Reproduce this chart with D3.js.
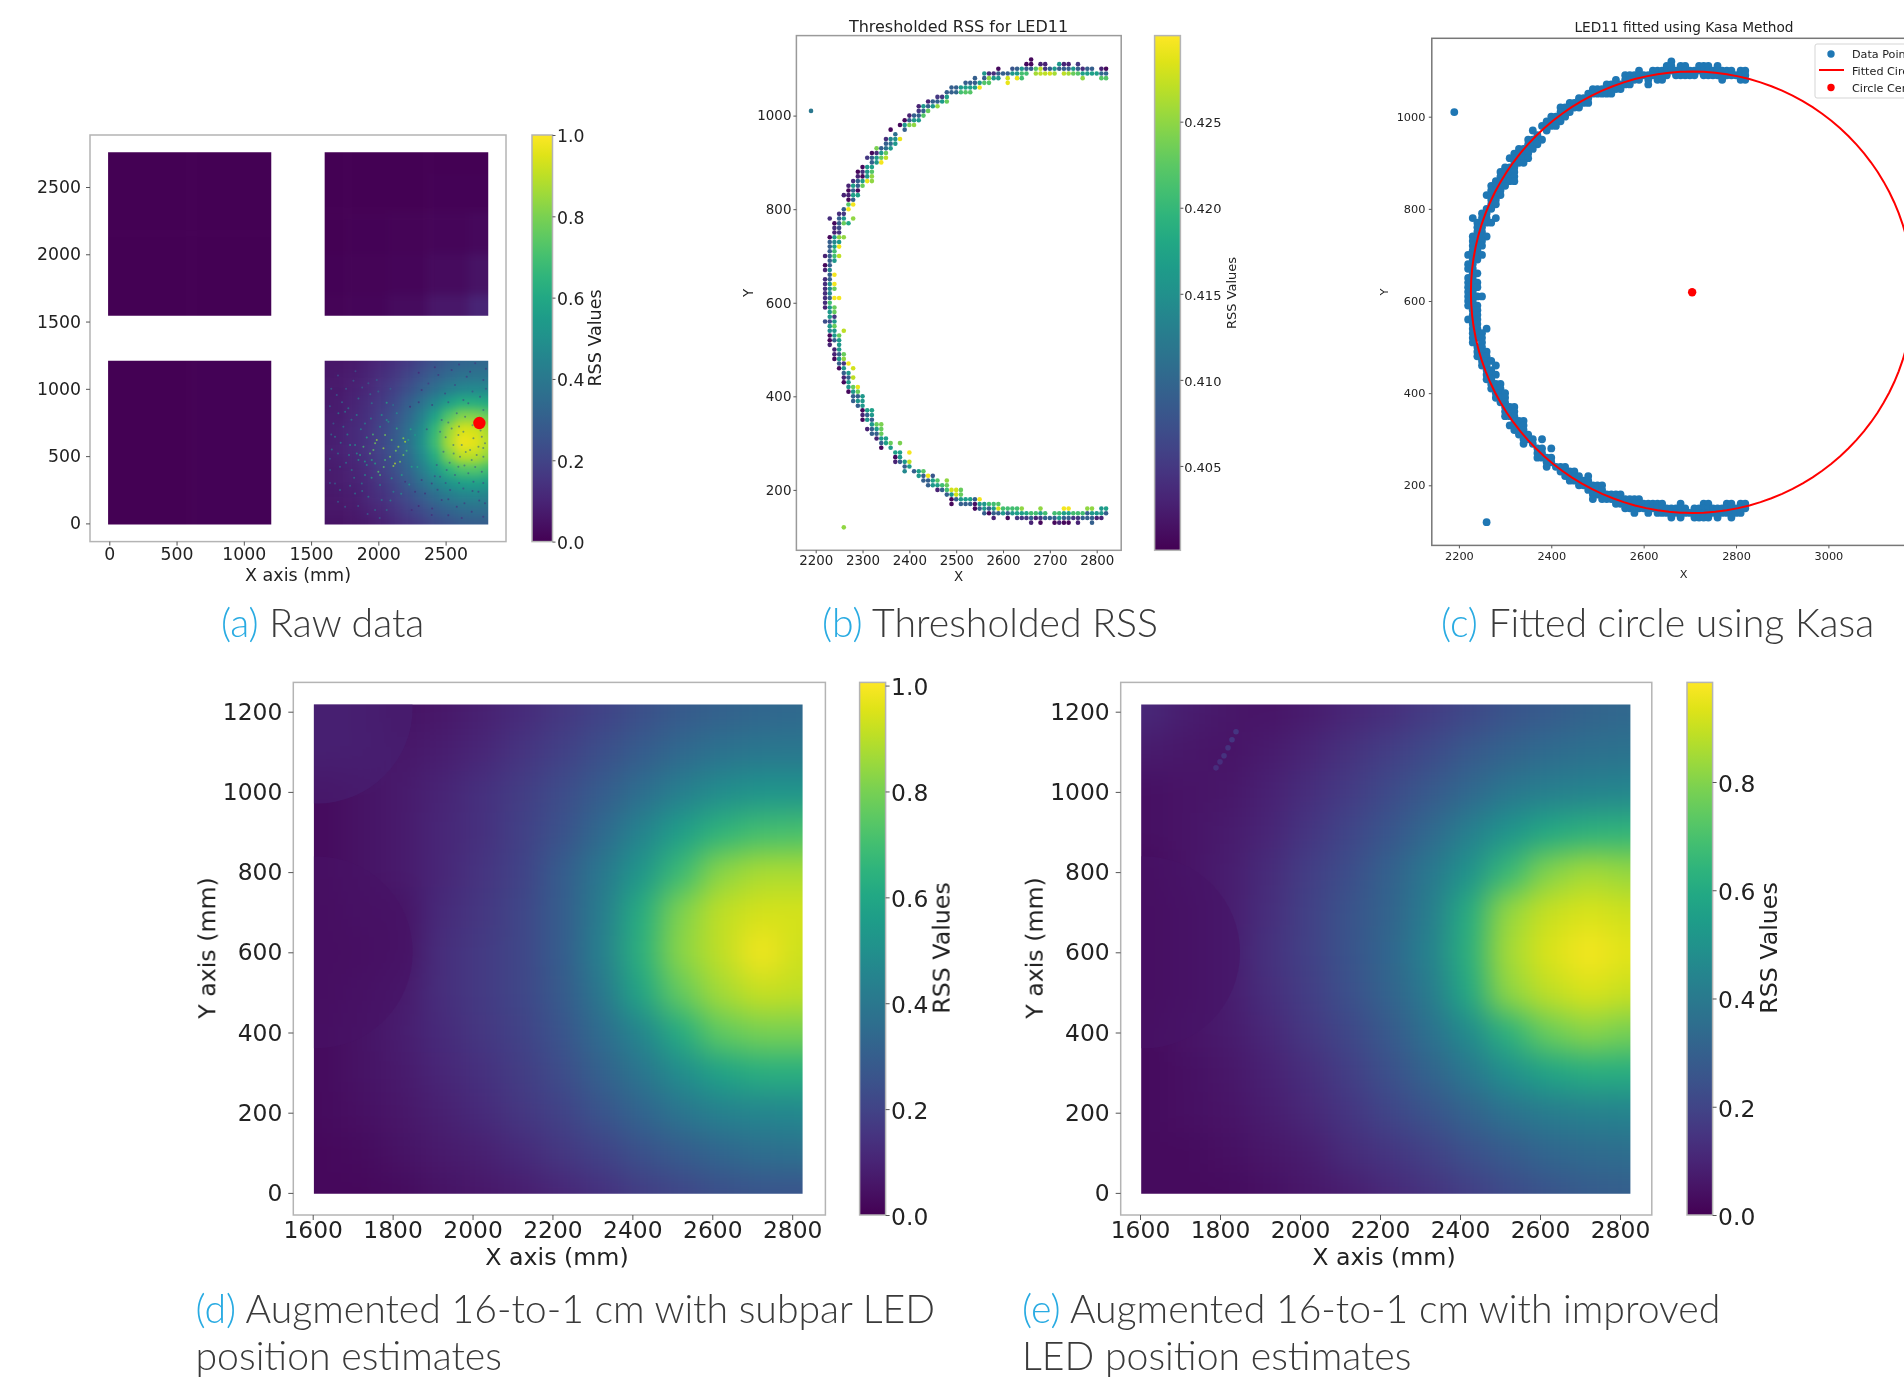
<!DOCTYPE html>
<html>
<head>
<meta charset="utf-8">
<script src="https://cdn.jsdelivr.net/npm/d3@7"></script>
<style>
  html, body { margin: 0; background: #fff; overflow: hidden; }
  text { font-family: "DejaVu Sans", sans-serif; fill: #222; }
  .caption text, text.caption { font-family: Lato, sans-serif; font-weight: 300; fill: #3a3a3a; }
  .soft { filter: blur(0.45px); }
</style>
</head>
<body>
<svg id="chart" width="1904" height="1381"></svg>
<script>
// coarse heat grids, RSS, rows run from the top (y=1200) down
const gridX = [1620,1720,1820,1920,2020,2120,2220,2320,2420,2520,2620,2720,2820];
const gridY = [1200,1100,1000,900,800,700,600,500,400,300,200,100,0];

const rawGrid = [
  [.06,.06,.07,.09,.11,.14,.17,.21,.25,.29,.32,.33,.33],
  [.06,.07,.08,.10,.13,.16,.20,.25,.30,.34,.37,.38,.38],
  [.07,.07,.09,.11,.15,.19,.24,.30,.36,.42,.46,.47,.46],
  [.07,.08,.10,.13,.17,.22,.29,.37,.46,.56,.62,.62,.60],
  [.08,.08,.11,.14,.19,.25,.33,.43,.57,.72,.81,.81,.76],
  [.08,.09,.12,.15,.20,.27,.36,.48,.66,.84,.94,.93,.86],
  [.08,.09,.12,.15,.21,.28,.37,.50,.68,.87,.98,.96,.88],
  [.08,.09,.11,.15,.20,.26,.35,.47,.62,.80,.90,.90,.83],
  [.07,.08,.10,.13,.18,.24,.32,.42,.53,.65,.72,.73,.69],
  [.07,.08,.09,.12,.16,.21,.28,.36,.44,.51,.56,.57,.55],
  [.06,.07,.08,.11,.14,.18,.23,.29,.35,.41,.44,.45,.44],
  [.06,.06,.07,.09,.11,.15,.19,.23,.28,.32,.35,.36,.36],
  [.05,.05,.06,.07,.09,.12,.15,.18,.22,.25,.28,.29,.29]
];

const subparGrid = [
  [.09,.08,.05,.06,.09,.12,.16,.20,.24,.28,.31,.33,.34],
  [.09,.08,.06,.08,.11,.15,.19,.24,.29,.34,.38,.40,.40],
  [.03,.05,.07,.10,.14,.18,.23,.29,.36,.43,.49,.52,.52],
  [.03,.05,.07,.11,.14,.19,.25,.34,.45,.56,.65,.70,.71],
  [.03,.05,.07,.11,.15,.20,.29,.40,.53,.68,.83,.88,.88],
  [.02,.04,.05,.12,.16,.21,.29,.42,.62,.81,.91,.94,.94],
  [.02,.03,.05,.13,.17,.21,.29,.43,.64,.83,.91,.99,.93],
  [.02,.04,.07,.13,.17,.21,.28,.40,.59,.77,.87,.92,.91],
  [.03,.05,.08,.12,.16,.20,.26,.35,.46,.62,.76,.80,.80],
  [.03,.05,.07,.11,.14,.18,.23,.31,.39,.49,.58,.63,.63],
  [.03,.04,.06,.09,.12,.16,.20,.26,.32,.39,.44,.46,.47],
  [.02,.03,.05,.07,.09,.12,.16,.20,.25,.29,.33,.36,.37],
  [.02,.02,.03,.05,.06,.08,.11,.14,.18,.21,.24,.26,.26]
];

const improvedGrid = [
  [.11,.08,.06,.05,.07,.10,.13,.17,.21,.25,.28,.31,.33],
  [.07,.06,.05,.07,.10,.14,.18,.22,.27,.31,.34,.36,.37],
  [.04,.05,.06,.09,.13,.17,.22,.27,.33,.39,.42,.44,.45],
  [.04,.05,.07,.10,.15,.20,.26,.33,.42,.51,.59,.63,.64],
  [.03,.05,.08,.12,.18,.23,.30,.39,.50,.66,.80,.85,.83],
  [.02,.04,.08,.13,.19,.25,.31,.41,.60,.83,.90,.93,.91],
  [.02,.04,.08,.14,.19,.25,.32,.43,.62,.85,.93,.97,.94],
  [.02,.04,.08,.13,.18,.24,.31,.40,.59,.82,.89,.93,.90],
  [.03,.05,.07,.11,.16,.21,.27,.36,.47,.63,.76,.81,.78],
  [.03,.04,.06,.09,.13,.18,.24,.31,.39,.49,.57,.61,.61],
  [.03,.04,.05,.08,.11,.15,.20,.25,.31,.37,.41,.43,.44],
  [.03,.03,.04,.06,.08,.12,.15,.19,.24,.28,.32,.34,.35],
  [.03,.03,.03,.04,.06,.08,.11,.14,.18,.22,.25,.28,.29]
];

// the other three quadrants of the raw data
const upperRightX = [1620,1920,2220,2520,2820];
const upperRightY = [2760,2450,2160,1850,1550];
const upperRightGrid = [
  [.001,.001,.001,.002,.002],
  [.001,.002,.003,.004,.006],
  [.002,.005,.010,.015,.020],
  [.005,.010,.015,.030,.050],
  [.010,.015,.030,.060,.100]
];
const upperLeftX = [10,1210];
const upperLeftY = [2760,1550];
const upperLeftGrid = [[.001,.001],[.001,.001]];
const lowerLeftX = [10,1210];
const lowerLeftY = [1210,0];
const lowerLeftGrid = [[.002,.004],[.002,.005]];

// specks in the raw data
const brightX = [2062,2025,2075,2137,2186,2199,2050,1988,1976,1914,2149,2087,2124,2112,2186,2000,2013,1938,1951,1889,1790,1782,1703,1753,1740,1678,1654,1715,1852,1951,1815,1926,1988,1715,1827,2013,1901,1877,1753,1976,2025,2112,1802,1852,2174,2248,2223,2273,2137,2062,2013,1901,1839,1777,1666,1691,1641,1678,1926,2062,2099,2050,1976,1914,1827,1864,1963,2038,2099,2161,1650,1700,1760,1830,1880,1940,2000,2090,1640,1730,1800,1870,1945,2110,1650,1720,1770,1840,1900,1960,1640,1700,1760,1820,1880,1950,2040,2130,2210,2240,1640,1700,1790,1850,1920,2010,2090,2170,2230,2290];
const brightY = [897,805,756,706,632,607,657,620,595,639,570,496,446,426,508,384,359,520,471,570,582,508,818,830,719,644,550,421,929,892,1060,1041,1065,248,223,285,359,297,124,99,174,236,397,471,359,421,620,657,818,768,718,743,805,855,743,954,397,297,198,99,335,471,446,434,582,508,545,558,620,459,1000,1100,1000,1130,1010,960,980,1000,870,900,770,700,780,880,660,600,660,520,460,660,480,520,450,340,240,340,420,540,540,700,300,160,280,130,70,40,170,220,290,420];
const brightV = [.6,.55,.5,.65,.85,.9,.8,.85,.8,.6,.85,.8,.9,.85,.8,.75,.7,.75,.6,.7,.55,.45,.4,.4,.4,.4,.4,.35,.4,.4,.3,.3,.3,.35,.4,.45,.5,.4,.3,.35,.4,.45,.4,.5,.6,.6,.6,.55,.5,.55,.5,.45,.45,.4,.3,.3,.3,.3,.4,.35,.55,.7,.6,.5,.5,.6,.75,.85,.75,.8,.3,.25,.3,.25,.3,.35,.35,.3,.3,.35,.4,.45,.45,.4,.35,.4,.45,.5,.55,.7,.3,.35,.4,.4,.4,.6,.75,.8,.7,.6,.3,.3,.35,.3,.3,.3,.45,.5,.55,.6];
const darkX = [2682,2545,2372,2496,2632,2756,2669,2583,2471,2645,2781,2459,2595,2707,2769,2682,2744,2558,2484,2607,2694,2781,2434,2570,2459,2669,2769,2397,2533,2632,2744,2347,2471,2583,2694,2793,2248,2397,2273,2236,2322,2570,2781,2657,2446,2620,2632,2545,2731,2793,2595,2508,2707,2322,2199,2300,2420,2600,2720,2800,2300,2400,2520,2700,2800,2360,2520,2600,2700,2760,2500,2560,2650,2780,2530,2640,2720,2420,2500,2600,2700,2780,2440,2520,2640,2750,2300,2400,2520,2620,2780];
const darkY = [1127,1140,1040,966,917,942,892,818,768,793,842,681,657,632,644,545,570,582,533,496,471,496,434,359,347,372,384,297,248,260,236,223,174,124,87,149,99,62,236,867,991,1028,1065,1090,1102,582,681,706,508,595,421,396,310,322,310,1120,1160,1180,1190,1150,900,880,900,980,1000,700,750,720,730,690,640,520,530,560,450,430,420,350,300,300,240,300,250,180,150,170,130,110,60,40,50];
const darkV = [.12,.12,.14,.16,.2,.2,.2,.25,.22,.28,.25,.3,.35,.35,.3,.35,.32,.3,.25,.3,.32,.3,.22,.2,.2,.25,.2,.12,.15,.18,.16,.1,.12,.12,.12,.14,.1,.1,.1,.08,.1,.16,.14,.14,.12,.35,.35,.3,.3,.3,.28,.22,.2,.12,.1,.08,.1,.14,.14,.14,.1,.12,.2,.2,.2,.18,.3,.32,.35,.32,.3,.32,.35,.3,.28,.3,.3,.18,.2,.22,.16,.2,.14,.12,.14,.14,.08,.1,.1,.12,.12];
const ledPos = [2751,746];

// discs visible in the augmented maps: centre x, centre y, radius, RSS
const subparDiscs = [[1610,1210,240,.09],[1610,600,240,.05]];
const improvedDiscs = [[1610,600,240,.05]];
// short bright streak in the improved map
const streakX = [1790,1800,1810,1820,1830,1840];
const streakY = [1060,1075,1090,1110,1130,1150];
const streakV = [.13,.13,.14,.14,.15,.15];

// thresholded points, one row per y
const threshY = [1120,1110,1100,1090,1080,1070,1060,1050,1040,1030,1020,1010,1000,990,980,970,960,950,940,930,920,910,900,890,880,870,860,850,840,830,820,810,800,790,780,770,760,750,740,730,720,710,700,690,680,670,660,650,640,630,620,610,600,590,580,570,560,550,540,530,520,510,500,490,480,470,460,450,440,430,420,410,400,390,380,370,360,350,340,330,320,310,300,290,280,270,260,250,240,230,220,210,200,190,180,170,160,150,140,130,120];
const threshX = [
  [2660],
  [2650,2660,2680,2690,2720,2730,2740,2760],
  [2590,2620,2630,2640,2650,2660,2670,2680,2690,2700,2710,2720,2730,2740,2750,2760,2770,2780,2790,2810,2820],
  [2560,2570,2580,2590,2600,2610,2620,2630,2640,2650,2670,2680,2690,2700,2710,2730,2740,2750,2760,2770,2780,2790,2800,2810,2820],
  [2540,2560,2570,2580,2590,2610,2630,2640,2770,2810,2820],
  [2520,2530,2540,2550,2560,2570,2610],
  [2490,2500,2510,2520,2530,2540,2550],
  [2480,2490,2500,2510,2520,2530],
  [2460,2470,2480],
  [2440,2450,2460,2470,2480],
  [2420,2430,2440,2450,2460],
  [2190,2420,2430,2440],
  [2400,2410,2420,2430],
  [2390,2400,2410,2420],
  [2380,2390,2400,2410],
  [2360,2390],
  [2370],
  [2350,2360,2370,2380],
  [2350,2360,2370],
  [2330,2340,2350,2360],
  [2320,2330,2340,2350],
  [2310,2320,2330,2340,2350],
  [2320,2330,2340],
  [2300,2310,2320],
  [2290,2300,2310,2320],
  [2290,2300,2310,2320],
  [2280,2290,2300,2310,2320],
  [2270,2280,2290,2300],
  [2270,2280,2290],
  [2260,2270,2280,2290],
  [2270,2280],
  [2270,2280],
  [2260,2270],
  [2250,2260],
  [2230,2250,2260,2280],
  [2240,2250,2260,2270],
  [2240,2250],
  [2240,2250],
  [2230,2240,2250,2260],
  [2230,2240,2250],
  [2230,2240,2250],
  [2230,2240],
  [2220,2230,2240,2250],
  [2230,2240],
  [2220,2230],
  [2220,2230],
  [2230,2240],
  [2220,2230],
  [2220,2230,2240],
  [2220,2230,2240],
  [2220,2230],
  [2220,2230,2240,2250],
  [2220,2230],
  [2220,2230,2240],
  [2230,2240],
  [2230,2240],
  [2220,2230,2240],
  [2230,2240],
  [2230,2240,2260],
  [2230,2240,2250],
  [2230,2240,2250],
  [2230,2250],
  [2240,2250],
  [2240,2250,2260],
  [2240,2250,2260],
  [2250,2260,2270],
  [2250,2260,2280],
  [2260,2270],
  [2260,2270,2280],
  [2260,2270],
  [2270,2280,2290],
  [2270,2280,2290],
  [2280,2290,2300],
  [2280,2290,2300],
  [2290,2300],
  [2300,2310,2320],
  [2300,2310,2320],
  [2300,2310,2320],
  [2320,2330,2340],
  [2310,2320,2330,2340],
  [2320,2330,2340],
  [2330,2340,2350],
  [2340,2350,2360,2380],
  [2340,2360],
  [2370,2380,2400],
  [2370,2380],
  [2370,2380,2390,2400],
  [2390,2400],
  [2390,2410,2420,2430],
  [2420,2430,2440,2450],
  [2430,2440,2450,2460,2480],
  [2440,2450,2460,2470,2480],
  [2460,2470,2480,2490,2500,2510],
  [2480,2490,2500,2510],
  [2490,2500,2510,2520,2530,2540,2550],
  [2490,2510,2520,2530,2540,2550,2560,2570,2580,2590],
  [2540,2550,2560,2570,2580,2590,2600,2610,2620,2630,2640,2680,2730,2740,2780,2790,2810,2820],
  [2560,2570,2580,2590,2600,2610,2620,2630,2640,2650,2660,2670,2680,2690,2710,2720,2730,2740,2750,2760,2770,2780,2790,2800,2810,2820],
  [2580,2610,2630,2640,2650,2660,2670,2680,2690,2700,2710,2720,2730,2740,2750,2760,2770,2780,2790,2800,2810],
  [2660,2680,2710,2720,2730,2740,2760,2790],
  [2260]
];
const threshV = [
  [.4008],
  [.4008,.4008,.403,.403,.416,.403,.403,.405],
  [.4008,.408,.409,.416,.409,.409,.422,.427,.405,.409,.416,.409,.409,.409,.416,.409,.404,.409,.409,.403,.4008],
  [.416,.404,.404,.409,.409,.409,.416,.416,.421,.421,.426,.427,.427,.428,.426,.427,.426,.423,.422,.417,.417,.417,.417,.41,.41],
  [.409,.409,.425,.416,.416,.428,.429,.421,.425,.422,.422],
  [.409,.409,.409,.416,.422,.422,.429],
  [.409,.409,.416,.417,.417,.417,.4295],
  [.409,.409,.41,.421,.422,.422],
  [.405,.405,.417],
  [.403,.409,.409,.416,.423],
  [.403,.416,.409,.416,.425],
  [.412,.405,.409,.423],
  [.403,.409,.409,.422],
  [.4008,.409,.416,.416],
  [.4008,.416,.424,.425],
  [.4008,.409],
  [.411],
  [.404,.414,.415,.429],
  [.409,.411,.416],
  [.424,.409,.411,.416],
  [.4008,.404,.416,.423],
  [.405,.409,.416,.423,.427],
  [.409,.416,.4295],
  [.4008,.416,.417],
  [.4008,.404,.416,.422],
  [.403,.4008,.416,.425],
  [.404,.409,.416,.429,.425],
  [.403,.417,.409,.423],
  [.4008,.409,.4008],
  [.403,.403,.417,.417],
  [.4008,.409],
  [.422,.4295],
  [.409,.4295],
  [.404,.405],
  [.404,.409,.416,.425],
  [.4008,.409,.423,.418],
  [.404,.407],
  [.403,.405],
  [.4008,.416,.425,.425],
  [.409,.414,.416],
  [.409,.417,.4295],
  [.409,.421],
  [.403,.409,.421,.427],
  [.409,.416],
  [.4008,.409],
  [.403,.414],
  [.409,.4295],
  [.404,.409],
  [.404,.415,.4295],
  [.404,.414,.423],
  [.404,.414],
  [.404,.409,.4295,.4295],
  [.404,.421],
  [.403,.416,.423],
  [.416,.423],
  [.416,.405],
  [.407,.407,.416],
  [.416,.423],
  [.414,.416,.427],
  [.4008,.416,.423],
  [.4008,.409,.416],
  [.403,.416],
  [.403,.416],
  [.403,.409,.423],
  [.4008,.416,.425],
  [.409,.405,.4295],
  [.4008,.416,.428],
  [.409,.416],
  [.403,.409,.427],
  [.4008,.416],
  [.416,.423,.429],
  [.4008,.416,.423],
  [.409,.409,.416],
  [.409,.416,.416],
  [.409,.416],
  [.4008,.417,.417],
  [.403,.409,.416],
  [.4008,.416,.409],
  [.416,.423,.424],
  [.403,.409,.416,.423],
  [.409,.409,.423],
  [.403,.416,.417],
  [.409,.417,.423,.424],
  [.4008,.416],
  [.417,.417,.4295],
  [.4008,.416],
  [.403,.409,.416,.427],
  [.409,.416],
  [.414,.409,.417,.422],
  [.416,.409,.4295,.408],
  [.409,.409,.417,.422,.425],
  [.409,.416,.417,.421,.423],
  [.403,.409,.421,.428,.428,.423],
  [.409,.416,.428,.423],
  [.4008,.409,.416,.417,.417,.409,.4295],
  [.4008,.409,.409,.409,.4015,.416,.416,.421,.421,.422],
  [.4008,.409,.416,.409,.416,.428,.421,.421,.421,.421,.425,.425,.4295,.4295,.425,.425,.416,.417],
  [.409,.4008,.409,.409,.416,.409,.416,.417,.417,.418,.421,.421,.417,.421,.421,.421,.417,.417,.421,.421,.421,.409,.416,.416,.416,.409],
  [.403,.4008,.405,.405,.405,.409,.403,.405,.409,.409,.409,.416,.409,.409,.405,.405,.409,.409,.409,.403,.403],
  [.403,.4008,.4008,.403,.4008,.4008,.403,.409],
  [.425]
];

// fitted circle from the Kasa panel
const circleCenter = [2705,619];
const circleRadius = 479;

const rawTicksX = [0,500,1000,1500,2000,2500];
const rawTicksY = [0,500,1000,1500,2000,2500];
const unitTicks = [0,.2,.4,.6,.8,1];
const improvedBarTicks = [0,.2,.4,.6,.8];
const threshBarTicks = [.405,.41,.415,.42,.425];
const threshTicksX = [2200,2300,2400,2500,2600,2700,2800];
const threshTicksY = [200,400,600,800,1000];
const kasaTicksX = [2200,2400,2600,2800,3000];
const augTicksX = [1600,1800,2000,2200,2400,2600,2800];
const augTicksY = [0,200,400,600,800,1000,1200];
const legendLabels = ["Data Points","Fitted Circle","Circle Center"];

const captionRows = [
  {tag:"(a)", lines:["Raw data"], x:221, y:637},
  {tag:"(b)", lines:["Thresholded RSS"], x:822, y:637},
  {tag:"(c)", lines:["Fitted circle using Kasa"], x:1441, y:637},
  {tag:"(d)", lines:["Augmented 16-to-1 cm with subpar LED","position estimates"], x:195.5, y:1323},
  {tag:"(e)", lines:["Augmented 16-to-1 cm with improved","LED position estimates"], x:1022, y:1323}
];

const svg = d3.select("#chart");
const defs = svg.append("defs");
let clipCount = 0;

function addBlur(id, dev) {
  defs.append("filter").attr("id", id)
    .attr("filterUnits", "userSpaceOnUse")
    .attr("x", 0).attr("y", 0).attr("width", 1904).attr("height", 1381)
    .attr("color-interpolation-filters", "sRGB")
    .append("feGaussianBlur").attr("stdDeviation", dev);
}
addBlur("blurBig", 15);
addBlur("blurSmall", 5);

function frame(g, x0, x1, y0, y1, color) {
  g.append("rect")
    .attr("x", x0).attr("y", y0).attr("width", x1 - x0).attr("height", y1 - y0)
    .attr("fill", "none").attr("stroke", color || "#b4b4b4").attr("stroke-width", 1.5);
}

function drawAxes(g, x, y, ticksX, ticksY, bottom, left, size, tickLen, padX, padY) {
  const ax = g.append("g").attr("transform", `translate(0,${bottom})`)
    .call(d3.axisBottom(x).tickValues(ticksX).tickFormat(d3.format("d")).tickSize(tickLen).tickPadding(padX));
  const ay = g.append("g").attr("transform", `translate(${left},0)`)
    .call(d3.axisLeft(y).tickValues(ticksY).tickFormat(d3.format("d")).tickSize(tickLen).tickPadding(padY));
  [ax, ay].forEach(a => {
    a.select(".domain").remove();
    a.selectAll("line").attr("stroke", "#555");
    a.selectAll("text").style("font-size", size + "px").style("font-family", '"DejaVu Sans"').attr("fill", "#222");
  });
}

function label(g, str, x, y, size, rotate) {
  g.append("text").text(str)
    .attr("text-anchor", "middle")
    .attr("transform", `translate(${x},${y})` + (rotate ? " rotate(-90)" : ""))
    .style("font-size", size + "px");
}

// one block of heat cells, blurred into a smooth field and clipped to its square
function heatBlock(g, xs, ys, grid, x, y, color, blurId, extent) {
  const id = "clip" + (clipCount++);
  const x0 = x(extent[0]);
  const x1 = x(extent[1]);
  const y0 = y(extent[3]);
  const y1 = y(extent[2]);
  defs.append("clipPath").attr("id", id).append("rect")
    .attr("x", x0).attr("y", y0).attr("width", x1 - x0).attr("height", y1 - y0);
  const outer = g.append("g").attr("clip-path", `url(#${id})`);
  const inner = outer.append("g").attr("filter", `url(#${blurId})`);
  const over = 60;
  ys.forEach((yv, r) => {
    xs.forEach((xv, c) => {
      const left = c === 0 ? x(xv) - over : (x(xs[c - 1]) + x(xv)) / 2;
      const right = c === xs.length - 1 ? x(xv) + over : (x(xs[c + 1]) + x(xv)) / 2;
      const top = r === 0 ? y(yv) - over : (y(ys[r - 1]) + y(yv)) / 2;
      const bot = r === ys.length - 1 ? y(yv) + over : (y(ys[r + 1]) + y(yv)) / 2;
      inner.append("rect")
        .attr("x", left).attr("y", top)
        .attr("width", right - left + 0.5).attr("height", bot - top + 0.5)
        .attr("fill", color(grid[r][c]));
    });
  });
  return outer;
}

function colorbar(g, x0, x1, y0, y1, color, domain, ticks, fmt, size, tickLen, pad) {
  const id = "bar" + (clipCount++);
  const grad = defs.append("linearGradient").attr("id", id)
    .attr("x1", 0).attr("x2", 0).attr("y1", 1).attr("y2", 0);
  d3.range(0, 1.0001, 0.05).forEach(t => {
    grad.append("stop").attr("offset", t)
      .attr("stop-color", color(domain[0] + t * (domain[1] - domain[0])));
  });
  g.append("rect").attr("x", x0).attr("y", y0).attr("width", x1 - x0).attr("height", y1 - y0)
    .attr("fill", `url(#${id})`);
  frame(g, x0, x1, y0, y1);
  const s = d3.scaleLinear().domain(domain).range([y1, y0]);
  const a = g.append("g").attr("transform", `translate(${x1},0)`)
    .call(d3.axisRight(s).tickValues(ticks).tickFormat(d3.format(fmt)).tickSize(tickLen).tickPadding(pad));
  a.select(".domain").remove();
  a.selectAll("line").attr("stroke", "#555");
  a.selectAll("text").attr("dy", "0.4em").style("font-size", size + "px").style("font-family", '"DejaVu Sans"').attr("fill", "#222");
}

/* ---- (a) raw data ---- */
function drawRaw() {
  const g = svg.append("g").attr("class", "soft");
  const x = d3.scaleLinear().domain([0, 2500]).range([109.3, 445.6]);
  const y = d3.scaleLinear().domain([0, 2500]).range([523.4, 187]);
  const color = d3.scaleSequential(d3.interpolateViridis).domain([0, 1]);

  heatBlock(g, upperLeftX, upperLeftY, upperLeftGrid, x, y, color, "blurSmall", [-9, 1204, 1543, 2758]);
  heatBlock(g, upperRightX, upperRightY, upperRightGrid, x, y, color, "blurSmall", [1601, 2817, 1543, 2758]);
  heatBlock(g, lowerLeftX, lowerLeftY, lowerLeftGrid, x, y, color, "blurSmall", [-9, 1204, -9, 1208]);
  heatBlock(g, gridX, gridY, rawGrid, x, y, color, "blurSmall", [1601, 2817, -9, 1208]);

  g.append("g").selectAll("circle").data(d3.range(brightX.length)).join("circle")
    .attr("cx", i => x(brightX[i])).attr("cy", i => y(brightY[i])).attr("r", 1)
    .attr("fill", i => color(brightV[i])).attr("opacity", 0.75);
  g.append("g").selectAll("circle").data(d3.range(darkX.length)).join("circle")
    .attr("cx", i => x(darkX[i])).attr("cy", i => y(darkY[i])).attr("r", 1)
    .attr("fill", i => color(darkV[i])).attr("opacity", 0.6);
  g.append("circle").attr("cx", x(ledPos[0])).attr("cy", y(ledPos[1])).attr("r", 6.2).attr("fill", "#ff0000");

  frame(g, 90, 506, 135, 541.6);
  drawAxes(g, x, y, rawTicksX, rawTicksY, 541.6, 90, 17.3, 4, 2.5, 5);
  label(g, "X axis (mm)", 298, 581, 17.5);
  colorbar(g, 532, 552.5, 135, 541.6, color, [0, 1], unitTicks, ".1f", 17.3, 3, 1.5);
  label(g, "RSS Values", 601, 338, 17.5, true);
}

/* ---- (b) thresholded ---- */
function drawThreshold() {
  const g = svg.append("g").attr("class", "soft");
  const x = d3.scaleLinear().domain([2200, 2800]).range([815.7, 1096.7]);
  const y = d3.scaleLinear().domain([200, 1000]).range([489.9, 115.6]);
  const barDomain = [0.4001, 0.43];
  const color = d3.scaleSequential(d3.interpolateViridis).domain(barDomain);

  threshY.forEach((yv, r) => {
    g.append("g").selectAll("circle").data(threshX[r]).join("circle")
      .attr("cx", d => x(d)).attr("cy", y(yv)).attr("r", 2.3)
      .attr("fill", (d, i) => color(threshV[r][i]));
  });

  frame(g, 796.4, 1121.2, 35.6, 550.3, "#9a9a9a");
  drawAxes(g, x, y, threshTicksX, threshTicksY, 550.3, 796.4, 13.4, 3, 2, 2);
  g.append("text").text("Thresholded RSS for LED11").attr("x", 958.5).attr("y", 32).attr("text-anchor", "middle").style("font-size", "16px");
  label(g, "X", 958.6, 581, 13.4);
  label(g, "Y", 753, 293, 13.4, true);
  colorbar(g, 1154.6, 1180.4, 35.6, 550.3, color, barDomain, threshBarTicks, ".3f", 13, 3, 0.8);
  label(g, "RSS Values", 1236, 293, 13, true);
}

/* ---- (c) kasa ---- */
function drawKasa() {
  const g = svg.append("g").attr("class", "soft");
  const x = d3.scaleLinear().domain([2200, 3000]).range([1458.9, 1828.4]);
  const y = d3.scaleLinear().domain([200, 1000]).range([485.3, 116.7]);

  threshY.forEach((yv, r) => {
    g.append("g").selectAll("circle").data(threshX[r]).join("circle")
      .attr("cx", d => x(d)).attr("cy", y(yv)).attr("r", 3.9)
      .attr("fill", "#1f77b4");
  });
  const angles = d3.range(0, 361, 3);
  const ring = d3.line()
    .x(a => x(circleCenter[0] + circleRadius * Math.cos(a * Math.PI / 180)))
    .y(a => y(circleCenter[1] + circleRadius * Math.sin(a * Math.PI / 180)));
  g.append("path").attr("d", ring(angles)).attr("fill", "none").attr("stroke", "#ff0000").attr("stroke-width", 2);
  g.append("circle").attr("cx", x(circleCenter[0])).attr("cy", y(circleCenter[1])).attr("r", 4.2).attr("fill", "#ff0000");

  frame(g, 1431.8, 2000, 38.3, 545.4, "#777");
  drawAxes(g, x, y, kasaTicksX, threshTicksY, 545.4, 1431.8, 11.3, 3, 3.4, 3.4);
  g.append("text").text("LED11 fitted using Kasa Method").attr("x", 1684).attr("y", 32).attr("text-anchor", "middle").style("font-size", "13.7px");
  label(g, "X", 1683.7, 578, 11.3);
  label(g, "Y", 1388, 292, 11.3, true);

  // legend runs off the right edge, as in the source image
  const lg = g.append("g");
  lg.append("rect").attr("x", 1815).attr("y", 44).attr("width", 120).attr("height", 54).attr("rx", 2)
    .attr("fill", "#fff").attr("stroke", "#d5d5d5");
  lg.append("circle").attr("cx", 1831).attr("cy", 54).attr("r", 3.7).attr("fill", "#1f77b4");
  lg.append("line").attr("x1", 1819).attr("x2", 1844).attr("y1", 70).attr("y2", 70).attr("stroke", "#ff0000").attr("stroke-width", 2);
  lg.append("circle").attr("cx", 1831).attr("cy", 87.5).attr("r", 3.7).attr("fill", "#ff0000");
  lg.selectAll("text").data(legendLabels).join("text")
    .text(d => d).attr("x", 1852).attr("y", (d, i) => 58 + i * 16.8).style("font-size", "11.2px");
}

/* ---- (d) / (e) augmented maps ---- */
function drawAugmented(grid, discs, barDomain, barTicks, px) {
  const g = svg.append("g").attr("class", "soft");
  const x = d3.scaleLinear().domain([1600, 2800]).range([px.x1600, px.x2800]);
  const y = d3.scaleLinear().domain([0, 1200]).range([1192.9, 711.7]);
  const color = d3.scaleSequential(d3.interpolateViridis).domain(barDomain);

  const block = heatBlock(g, gridX, gridY, grid, x, y, color, "blurBig", [1603, 2826, -2, 1218]);
  block.append("g").selectAll("circle").data(discs).join("circle")
    .attr("cx", d => x(d[0])).attr("cy", d => y(d[1]))
    .attr("r", d => x(d[0] + d[2]) - x(d[0]))
    .attr("fill", d => color(d[3])).attr("opacity", 0.6);
  if (px.streak) {
    block.append("g").selectAll("circle").data(d3.range(streakX.length)).join("circle")
      .attr("cx", i => x(streakX[i])).attr("cy", i => y(streakY[i])).attr("r", 2.8)
      .attr("fill", i => color(streakV[i]));
  }

  frame(g, px.left, px.right, 682.4, 1215);
  drawAxes(g, x, y, augTicksX, augTicksY, 1215, px.left, 23.4, 5, 1, 6);
  label(g, "X axis (mm)", px.labelX, 1265, 23.7);
  label(g, "Y axis (mm)", px.left - 78, 948, 23.7, true);
  colorbar(g, px.barL, px.barR, 682.4, 1215, color, barDomain, barTicks, ".1f", 23.4, 4, 1.5);
  label(g, "RSS Values", px.barR + 64, 948, 23.7, true);
}

function drawCaptions() {
  const g = svg.append("g");
  captionRows.forEach(c => {
    c.lines.forEach((line, i) => {
      const t = g.append("text").attr("class", "caption")
        .attr("x", c.x).attr("y", c.y + i * 47)
        .style("font-size", "39.2px");
      if (i === 0) {
        t.append("tspan").text(c.tag + " ").style("fill", "#29abe2");
      }
      t.append("tspan").text(line);
    });
  });
}

drawRaw();
drawThreshold();
drawKasa();
drawAugmented(subparGrid, subparDiscs, [0, 1.006], unitTicks,
  {x1600: 312.7, x2800: 792.2, left: 293.3, right: 825.4, barL: 859.6, barR: 885.6, labelX: 557, streak: false});
drawAugmented(improvedGrid, improvedDiscs, [0, 0.984], improvedBarTicks,
  {x1600: 1140, x2800: 1620, left: 1120.7, right: 1651.8, barL: 1687, barR: 1712.6, labelX: 1384, streak: true});
drawCaptions();
</script>
</body>
</html>
